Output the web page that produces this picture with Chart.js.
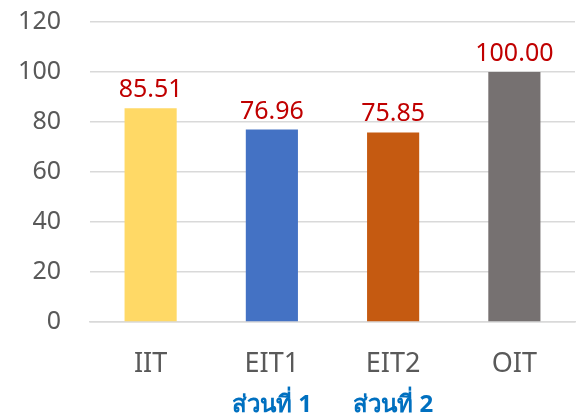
<!DOCTYPE html>
<html>
<head>
    <title>Bar Chart</title>
    <script src="https://cdn.jsdelivr.net/npm/chart.js"></script>
    <style>
        html, body { margin: 0; padding: 0; background: #fff; }
        #wrap { width: 577px; height: 416px; }
    </style>
</head>
<body>
    <div id="wrap"><canvas id="barChart" width="577" height="416"></canvas></div>

    <script>
    const categories = ['IIT', 'EIT1', 'EIT2', 'OIT'];
    const subLabels = ['', 'ส่วนที่ 1', 'ส่วนที่ 2', ''];
    const scores = [85.51, 76.96, 75.85, 100.00];
    const barColors = ['#FFD966', '#4472C4', '#C55A11', '#767171'];
    const yMin = 0;
    const yMax = 120;
    const yStep = 20;

    const fontFamily = '"Noto Sans", "Open Sans", sans-serif';

    // values above bars + second-line thai labels
    const labelPlugin = {
        id: 'labelPlugin',
        afterDatasetsDraw(chart) {
            const ctx = chart.ctx;
            const meta = chart.getDatasetMeta(0);
            ctx.save();
            ctx.font = '25px ' + fontFamily;
            ctx.fillStyle = '#C00000';
            ctx.textAlign = 'center';
            ctx.textBaseline = 'alphabetic';
            meta.data.forEach(function(bar, i) {
                ctx.fillText(scores[i].toFixed(2), bar.x, bar.y - 11);
            });

            const xScale = chart.scales.x;
            ctx.font = 'bold 24px ' + fontFamily;
            ctx.fillStyle = '#0070C0';
            subLabels.forEach(function(txt, i) {
                if (txt) ctx.fillText(txt, xScale.getPixelForValue(i), 412);
            });
            ctx.restore();
        }
    };

    new Chart(document.getElementById('barChart'), {
        type: 'bar',
        data: {
            labels: categories,
            datasets: [{
                data: scores,
                backgroundColor: barColors,
                categoryPercentage: 1,
                barPercentage: 0.43
            }]
        },
        options: {
            responsive: false,
            animation: false,
            layout: { padding: { top: 0, right: 2, left: 0, bottom: 0 } },
            plugins: {
                legend: { display: false },
                tooltip: { enabled: false }
            },
            scales: {
                x: {
                    grid: { display: false, drawTicks: false },
                    border: { color: '#D9D9D9', width: 1.5 },
                    ticks: {
                        color: '#595959',
                        font: { family: fontFamily, size: 27 },
                        padding: 26
                    },
                    afterFit(scale) { scale.height = 94; }
                },
                y: {
                    min: yMin,
                    max: yMax,
                    grid: { color: '#D9D9D9', lineWidth: 1.5, drawTicks: false },
                    border: { display: false },
                    ticks: {
                        stepSize: yStep,
                        color: '#595959',
                        font: { family: fontFamily, size: 25 },
                        padding: 29
                    },
                    afterFit(scale) {
                        scale.width = 90;
                        scale.paddingTop = 22;
                    }
                }
            }
        },
        plugins: [labelPlugin]
    });
    </script>
</body>
</html>
